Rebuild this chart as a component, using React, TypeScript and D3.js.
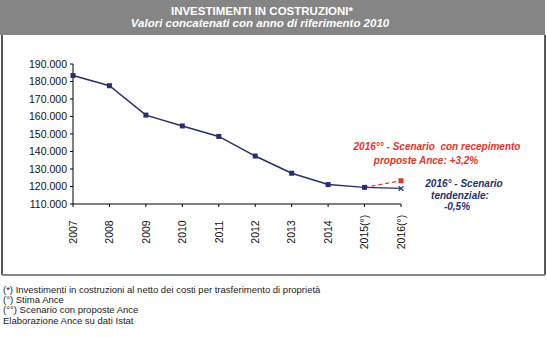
import React from "react";
import * as d3 from "d3";

const years = ["2007", "2008", "2009", "2010", "2011", "2012", "2013", "2014", "2015(°)", "2016(°)"];
const values = [183.4, 177.6, 160.8, 154.6, 148.6, 137.4, 127.6, 121.1, 119.5, 118.9];
const scenarioYears = ["2015(°)", "2016(°)"];
const scenarioValues = [119.5, 123.3];
const yTicks = [110, 120, 130, 140, 150, 160, 170, 180, 190];
const footnotes = [
  "(*) Investimenti in costruzioni al netto dei costi per trasferimento di proprietà",
  "(°) Stima Ance",
  "(°°) Scenario con proposte Ance",
  "Elaborazione Ance su dati Istat",
];

const W = 547, H = 337;
const NAVY = "#26306e";
const RED = "#e5332a";
const FONT = "Liberation Sans, Arial, sans-serif";

export default function App() {
  const x = d3.scalePoint<string>().domain(years).range([73, 401]);
  const y = d3.scaleLinear().domain([110, 190]).range([204, 64]);
  const line = d3.line<number>().x((_, i) => x(years[i])!).y((d) => y(d));
  const mainPath = line(values.slice(0, 9))!;
  const tendPath = d3.line<number>().x((_, i) => x(years[8 + i])!).y((d) => y(d))(values.slice(8))!;
  const scenPath = d3.line<number>().x((_, i) => x(scenarioYears[i])!).y((d) => y(d))(scenarioValues)!;
  const fmt = (v: number) => d3.format(",")(v * 1000).replace(/,/g, ".");

  return (
    <svg width={W} height={H} style={{ position: "absolute", left: 0, top: 0, background: "#fff" }} fontFamily={FONT}>
      <rect x={0} y={0} width={545} height={35} fill="#858585" />
      <text x={262} y={15} textAnchor="middle" fill="#fff" fontWeight="bold" fontSize={11.5}>INVESTIMENTI IN COSTRUZIONI*</text>
      <text x={260} y={27} textAnchor="middle" fill="#fff" fontWeight="bold" fontStyle="italic" fontSize={11.5}>Valori concatenati con anno di riferimento 2010</text>
      <line x1={2} x2={2} y1={35} y2={275} stroke="#222" strokeWidth={1.5} />
      <line x1={545} x2={545} y1={35} y2={275} stroke="#222" strokeWidth={1.5} />
      <line x1={2} x2={545} y1={275} y2={275} stroke="#888" strokeWidth={2} />

      {/* y axis */}
      <line x1={73} x2={73} y1={y(190)} y2={y(110)} stroke="#000" strokeWidth={1} />
      {yTicks.map((t) => (
        <g key={t}>
          <line x1={70} x2={73} y1={y(t)} y2={y(t)} stroke="#000" />
          <text x={67} y={y(t) + 3.8} textAnchor="end" fontSize={10.5} fill="#111">{fmt(t)}</text>
        </g>
      ))}
      {/* x axis */}
      <line x1={73} x2={401} y1={y(110)} y2={y(110)} stroke="#000" />
      {years.map((yr) => (
        <g key={yr}>
          <line x1={x(yr)} x2={x(yr)} y1={y(110)} y2={y(110) + 3} stroke="#000" />
          <text transform={`translate(${x(yr)! + 3.8},232) rotate(-90)`} textAnchor="middle" fontSize={10.5} fill="#111">{yr}</text>
        </g>
      ))}

      <path d={mainPath} fill="none" stroke={NAVY} strokeWidth={1.5} />
      <path d={tendPath} fill="none" stroke={NAVY} strokeWidth={1.2} />
      <path d={scenPath} fill="none" stroke={RED} strokeWidth={1.2} strokeDasharray="4,3" />
      {values.slice(0, 9).map((v, i) => (
        <rect key={i} x={x(years[i])! - 2.5} y={y(v) - 2.5} width={5} height={5} fill={NAVY} />
      ))}
      <rect x={x(scenarioYears[1])! - 2.5} y={y(scenarioValues[1]) - 2.5} width={5} height={5} fill={RED} />
      <g stroke={NAVY} strokeWidth={1.2}>
        <line x1={x(years[9])! - 2.3} x2={x(years[9])! + 2.3} y1={y(values[9]) - 2.3} y2={y(values[9]) + 2.3} />
        <line x1={x(years[9])! - 2.3} x2={x(years[9])! + 2.3} y1={y(values[9]) + 2.3} y2={y(values[9]) - 2.3} />
      </g>

      <g fontWeight="bold" fontStyle="italic" fontSize={10} fill={RED}>
        <text x={437} y={150} textAnchor="middle" style={{ whiteSpace: "pre" }}>2016°° - Scenario  con recepimento</text>
        <text x={426} y={164} textAnchor="middle">proposte Ance: +3,2%</text>
      </g>
      <g fontWeight="bold" fontStyle="italic" fontSize={10} fill={NAVY}>
        <text x={464} y={187} textAnchor="middle">2016° - Scenario</text>
        <text x={460} y={198.5} textAnchor="middle">tendenziale:</text>
        <text x={457} y={210} textAnchor="middle">-0,5%</text>
      </g>

      {footnotes.map((f, i) => (
        <text key={i} x={3} y={292.5 + i * 10.4} fontSize={9.5} fill="#222">{f}</text>
      ))}
    </svg>
  );
}
